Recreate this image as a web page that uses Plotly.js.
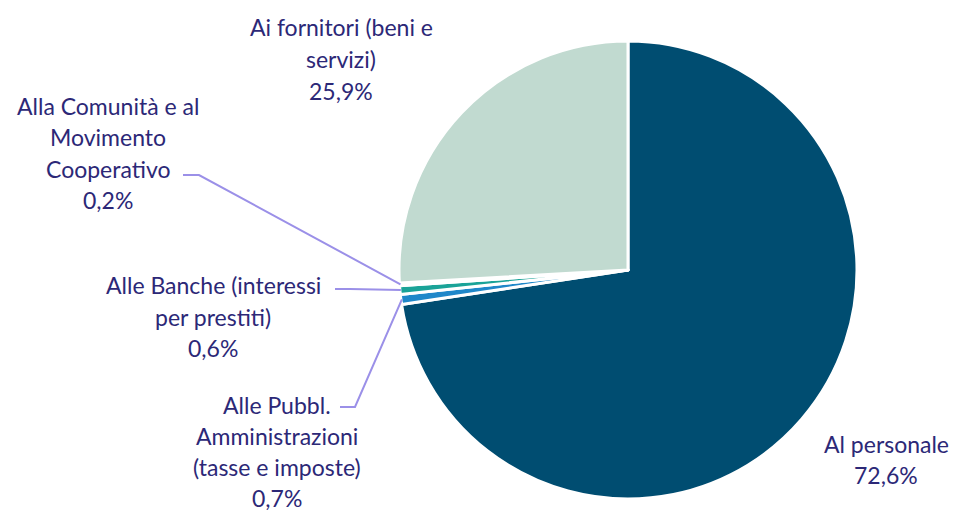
<!DOCTYPE html>
<html><head><meta charset="utf-8">
<script src="https://cdn.plot.ly/plotly-3.0.1.min.js"></script>
<style>html,body{margin:0;padding:0;background:#fff}#chart{width:958px;height:510px}</style>
</head><body><div id="chart"></div>
<script>
const categories = ["Al personale", "Alle Pubbl. Amministrazioni (tasse e imposte)", "Alle Banche (interessi per prestiti)", "Alla Comunità e al Movimento Cooperativo", "Ai fornitori (beni e servizi)"];
const values = [72.6, 0.7, 0.6, 0.2, 25.9];
const valueLabels = ["72,6%", "0,7%", "0,6%", "0,2%", "25,9%"];
const labelLines = [
  ["Al personale"],
  ["Alle Pubbl.", "Amministrazioni", "(tasse e imposte)"],
  ["Alle Banche (interessi", "per prestiti)"],
  ["Alla Comunità e al", "Movimento", "Cooperativo"],
  ["Ai fornitori (beni e", "servizi)"]
];
const colors = ["#004d71", "#1f87c9", "#1aa398", "#dfeee9", "#c1dad0"];

const W = 958, H = 510;
const cx = 628, cy = 270, R = 229;
const px = x => x / W, py = y => 1 - y / H;

// label anchor (center x, first line y) and leader elbows in pixels
const labelPos = [[886, 444], [277, 405], [213, 285], [108, 106], [341, 27]];
const lineStep = [30.5, 31, 31.5, 31.3, 32];
const leaderStart = [null, [340, 407], [335, 289], [183, 175], null];
const leaderElbow = [null, [355, 407], [350, 289], [199, 175], null];

const textColor = "#2c2877";
const font = {family: "Lato, 'Open Sans', sans-serif", size: 23, color: textColor};

const annotations = [];
const shapes = [];
const total = values.reduce((a, b) => a + b, 0);
let cum = 0;
values.forEach((v, i) => {
  const lines = labelLines[i].concat([valueLabels[i]]);
  lines.forEach((t, k) => {
    annotations.push({text: t, x: px(labelPos[i][0]), y: py(labelPos[i][1] + k * lineStep[i]),
      xref: "paper", yref: "paper", showarrow: false, xanchor: "center", yanchor: "middle", font: font});
  });
  const mid = (cum + v / 2) / total * 2 * Math.PI;
  cum += v;
  if (leaderStart[i]) {
    const ex = cx + (R - 1) * Math.sin(mid), ey = cy - (R - 1) * Math.cos(mid);
    shapes.push({type: "path", xref: "paper", yref: "paper",
      path: `M ${px(leaderStart[i][0])} ${py(leaderStart[i][1])} L ${px(leaderElbow[i][0])} ${py(leaderElbow[i][1])} L ${px(ex)} ${py(ey)}`,
      line: {color: "#9b90e8", width: 2}});
  }
});

const data = [{
  type: "pie", labels: categories, values: values, sort: false, direction: "clockwise", rotation: 0,
  marker: {colors: colors, line: {color: "#ffffff", width: 3}},
  textinfo: "none", hoverinfo: "label+percent", showlegend: false,
  domain: {x: [px(cx - R), px(cx + R)], y: [py(cy + R), py(cy - R)]}
}];

const layout = {
  width: W, height: H, margin: {l: 0, r: 0, t: 0, b: 0},
  paper_bgcolor: "#ffffff", showlegend: false,
  annotations: annotations, shapes: shapes
};
Plotly.newPlot("chart", data, layout, {displayModeBar: false, staticPlot: true});
</script></body></html>
